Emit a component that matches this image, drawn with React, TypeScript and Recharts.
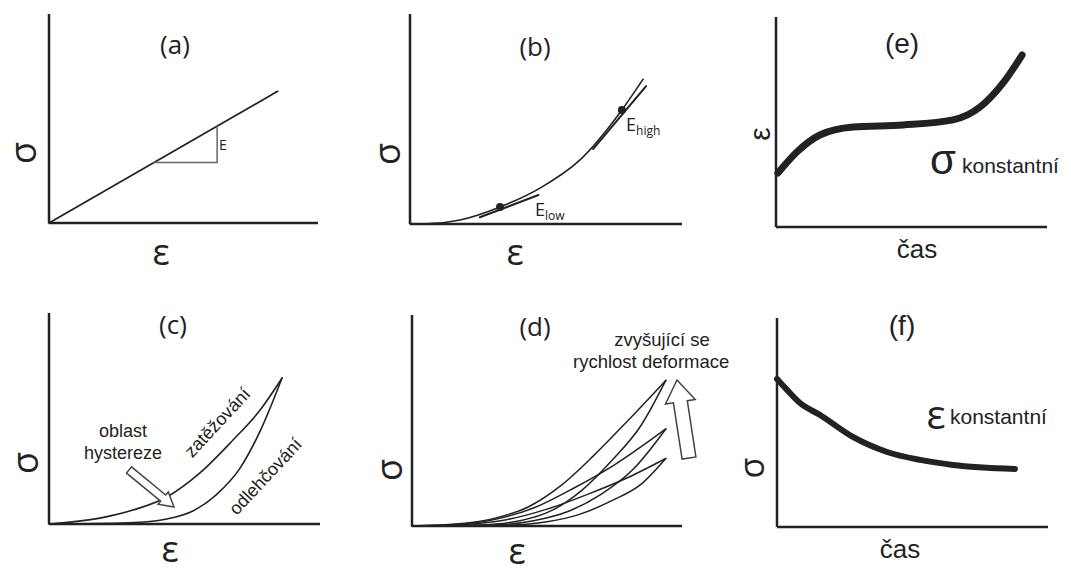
import React from 'react';
import { LineChart, Line, XAxis, YAxis, ReferenceDot } from 'recharts';

type Pt = { x: number; y: number };

// (a) linear elastic: stress-strain line and slope triangle
const linearStrain = [0, 0.85];
const linearStress = [0, 0.63];
const slopeTriX = [0.39, 0.625, 0.625];
const slopeTriY = [0.29, 0.29, 0.46];

// (b) nonlinear elastic curve with tangents at low / high strain
const nlStrain = [0, 0.074, 0.184, 0.331, 0.478, 0.625, 0.779, 0.857];
const nlStress = [0, 0.002, 0.019, 0.081, 0.171, 0.305, 0.543, 0.69];
const lowTanX = [0.257, 0.472];
const lowTanY = [0.032, 0.138];
const highTanX = [0.673, 0.868];
const highTanY = [0.357, 0.657];
const tangentPoints: Pt[] = [
  { x: 0.331, y: 0.081 },
  { x: 0.779, y: 0.543 },
];

// (c) hysteresis loop
const loadX = [0, 0.188, 0.31, 0.435, 0.557, 0.679, 0.779, 0.86];
const loadY = [0, 0.028, 0.066, 0.128, 0.242, 0.398, 0.54, 0.692];
const unloadX = [0, 0.188, 0.373, 0.435, 0.531, 0.62, 0.705, 0.779, 0.86];
const unloadY = [0, 0.002, 0.012, 0.024, 0.062, 0.142, 0.265, 0.44, 0.692];

// (d) loops at three strain rates
const rateLoops: { upX: number[]; upY: number[]; downX: number[]; downY: number[] }[] = [
  {
    upX: [0, 0.15, 0.3, 0.43, 0.55, 0.67, 0.8, 0.94],
    upY: [0, 0.008, 0.035, 0.09, 0.19, 0.33, 0.5, 0.69],
    downX: [0, 0.25, 0.4, 0.52, 0.63, 0.74, 0.85, 0.94],
    downY: [0, 0.005, 0.025, 0.075, 0.17, 0.31, 0.48, 0.69],
  },
  {
    upX: [0, 0.15, 0.3, 0.45, 0.6, 0.75, 0.94],
    upY: [0, 0.006, 0.03, 0.085, 0.18, 0.29, 0.46],
    downX: [0, 0.3, 0.45, 0.58, 0.7, 0.82, 0.94],
    downY: [0, 0.005, 0.025, 0.07, 0.15, 0.27, 0.46],
  },
  {
    upX: [0, 0.2, 0.35, 0.5, 0.65, 0.8, 0.94],
    upY: [0, 0.008, 0.03, 0.08, 0.15, 0.23, 0.32],
    downX: [0, 0.35, 0.5, 0.62, 0.74, 0.85, 0.94],
    downY: [0, 0.004, 0.02, 0.055, 0.12, 0.2, 0.32],
  },
];

// (e) creep at constant stress
const creepTime = [0.007, 0.077, 0.162, 0.284, 0.469, 0.653, 0.753, 0.838, 0.908];
const creepStrain = [0.257, 0.357, 0.438, 0.476, 0.486, 0.51, 0.571, 0.686, 0.819];

// (f) relaxation at constant strain
const relaxTime = [0, 0.037, 0.085, 0.159, 0.28, 0.406, 0.528, 0.649, 0.878];
const relaxStress = [0.708, 0.656, 0.593, 0.536, 0.431, 0.359, 0.321, 0.297, 0.278];

const zip = (xs: number[], ys: number[]): Pt[] => xs.map((x, i) => ({ x, y: ys[i] }));

const INK = '#222';
const PAD = 6;
const AXIS = 2; // room kept for the axis components
const GREEK = '"Open Sans", "DejaVu Sans", sans-serif';
const ARIAL = '"Liberation Sans", Arial, sans-serif';

type Series = { pts: Pt[]; width?: number; color?: string; curve?: 'monotone' | 'linear' };

const Panel = ({
  x0, y0, x1, y1, series, dots = [],
}: { x0: number; y0: number; x1: number; y1: number; series: Series[]; dots?: Pt[] }) => {
  const w = x1 - x0;
  const h = y1 - y0;
  return (
    <div style={{ position: 'absolute', left: x0 - PAD, top: y0 - PAD }}>
      <LineChart
        width={w + PAD * 2}
        height={h + PAD * 2}
        margin={{ top: PAD, right: PAD, bottom: PAD - AXIS, left: PAD - AXIS }}
      >
        <XAxis
          type="number"
          dataKey="x"
          domain={[0, 1]}
          height={AXIS}
          tick={false}
          tickLine={false}
          axisLine={{ stroke: INK, strokeWidth: 2.5 }}
        />
        <YAxis
          type="number"
          dataKey="y"
          domain={[0, 1]}
          width={AXIS}
          tick={false}
          tickLine={false}
          axisLine={{ stroke: INK, strokeWidth: 2.5 }}
        />
        {series.map((s, i) => (
          <Line
            key={i}
            data={s.pts}
            dataKey="y"
            type={s.curve ?? 'monotone'}
            stroke={s.color ?? INK}
            strokeWidth={s.width ?? 1.6}
            strokeLinecap="round"
            dot={false}
            activeDot={false}
            isAnimationActive={false}
          />
        ))}
        {dots.map((d, i) => (
          <ReferenceDot key={i} x={d.x} y={d.y} r={4} fill={INK} stroke="none" />
        ))}
      </LineChart>
    </div>
  );
};

const Txt = ({
  x, y, size, children, font = GREEK, rotate = 0, anchor = 'center',
}: {
  x: number; y: number; size: number; children: React.ReactNode; font?: string; rotate?: number;
  anchor?: 'center' | 'left';
}) => (
  <div
    style={{
      position: 'absolute',
      left: x,
      top: y,
      transform: `translate(${anchor === 'center' ? '-50%' : '0'}, -50%) rotate(${rotate}deg)`,
      fontFamily: font,
      fontSize: size,
      lineHeight: 0.75,
      color: INK,
      whiteSpace: 'nowrap',
    }}
  >
    {children}
  </div>
);

// hollow block arrow from tail (tx,ty) to tip (hx,hy)
const arrowPath = (tx: number, ty: number, hx: number, hy: number, shaft: number, head: number, headLen: number) => {
  const len = Math.hypot(hx - tx, hy - ty);
  const ux = (hx - tx) / len;
  const uy = (hy - ty) / len;
  const nx = -uy;
  const ny = ux;
  const bx = hx - ux * headLen;
  const by = hy - uy * headLen;
  const p = [
    [tx + nx * shaft, ty + ny * shaft],
    [bx + nx * shaft, by + ny * shaft],
    [bx + nx * head, by + ny * head],
    [hx, hy],
    [bx - nx * head, by - ny * head],
    [bx - nx * shaft, by - ny * shaft],
    [tx - nx * shaft, ty - ny * shaft],
  ];
  return p.map((q) => q.map((v) => v.toFixed(1)).join(',')).join(' ');
};

export default function App() {
  return (
    <div style={{ position: 'absolute', left: 0, top: 0, width: 1071, height: 569, background: '#fff', overflow: 'hidden' }}>
      {/* (a) */}
      <Panel
        x0={49} y0={14} x1={318} y1={223}
        series={[
          { pts: zip(linearStrain, linearStress), curve: 'linear', width: 1.8 },
          { pts: zip(slopeTriX, slopeTriY), curve: 'linear', width: 1.5, color: '#666' },
        ]}
      />
      <Txt x={175} y={45} size={26}>(a)</Txt>
      <Txt x={22} y={153} size={36} rotate={-90}>σ</Txt>
      <Txt x={161} y={251} size={36}>ε</Txt>
      <Txt x={219} y={145} size={14} anchor="left">E</Txt>

      {/* (b) */}
      <Panel
        x0={410} y0={14} x1={682} y1={224}
        series={[
          { pts: zip(nlStrain, nlStress), width: 1.6 },
          { pts: zip(lowTanX, lowTanY), curve: 'linear', width: 2 },
          { pts: zip(highTanX, highTanY), curve: 'linear', width: 2 },
        ]}
        dots={tangentPoints}
      />
      <Txt x={535} y={47} size={26}>(b)</Txt>
      <Txt x={386} y={154} size={36} rotate={-90}>σ</Txt>
      <Txt x={515} y={251} size={36}>ε</Txt>
      <Txt x={535} y={211} size={18} anchor="left">
        E<span style={{ fontSize: 12, verticalAlign: -4 }}>low</span>
      </Txt>
      <Txt x={626} y={126} size={18} anchor="left">
        E<span style={{ fontSize: 12, verticalAlign: -4 }}>high</span>
      </Txt>

      {/* (e) */}
      <Panel
        x0={776} y0={17} x1={1047} y1={227}
        series={[{ pts: zip(creepTime, creepStrain), width: 7 }]}
      />
      <Txt x={902} y={43} size={28} font={ARIAL}>(e)</Txt>
      <Txt x={760} y={134} size={30} font={ARIAL} rotate={-90}>ε</Txt>
      <Txt x={943} y={160} size={42} font={ARIAL}>σ</Txt>
      <Txt x={962} y={166} size={21} font={ARIAL} anchor="left">konstantní</Txt>
      <Txt x={917} y={250} size={26} font={ARIAL}>čas</Txt>

      {/* (c) */}
      <Panel
        x0={49} y0={313} x1={320} y1={524}
        series={[
          { pts: zip(loadX, loadY), width: 1.6 },
          { pts: zip(unloadX, unloadY), width: 1.6 },
        ]}
      />
      <Txt x={173} y={325} size={26}>(c)</Txt>
      <Txt x={24} y={463} size={36} rotate={-90}>σ</Txt>
      <Txt x={170} y={548} size={36}>ε</Txt>
      <Txt x={123} y={432} size={18} font={ARIAL}>oblast</Txt>
      <Txt x={123} y={454} size={18} font={ARIAL}>hystereze</Txt>
      <Txt x={218} y={423} size={18} font={ARIAL} rotate={-47}>zatěžování</Txt>
      <Txt x={266} y={477} size={18} font={ARIAL} rotate={-47}>odlehčování</Txt>

      {/* (d) */}
      <Panel
        x0={412} y0={315} x1={682} y1={526}
        series={rateLoops.flatMap((l) => [
          { pts: zip(l.upX, l.upY), width: 1.5 },
          { pts: zip(l.downX, l.downY), width: 1.5 },
        ])}
      />
      <Txt x={535} y={327} size={26}>(d)</Txt>
      <Txt x={388} y={470} size={36} rotate={-90}>σ</Txt>
      <Txt x={517} y={550} size={36}>ε</Txt>
      <Txt x={662} y={340} size={18.5} font={ARIAL}>zvyšující se</Txt>
      <Txt x={573} y={362} size={18.5} font={ARIAL} anchor="left">rychlost deformace</Txt>

      {/* (f) */}
      <Panel
        x0={777} y0={318} x1={1048} y1={527}
        series={[{ pts: zip(relaxTime, relaxStress), width: 6 }]}
      />
      <Txt x={902} y={325} size={28} font={ARIAL}>(f)</Txt>
      <Txt x={752} y={468} size={34} font={GREEK} rotate={-90}>σ</Txt>
      <Txt x={936} y={414} size={40} font={GREEK}>ε</Txt>
      <Txt x={950} y={417} size={21} font={ARIAL} anchor="left">konstantní</Txt>
      <Txt x={900} y={550} size={26} font={ARIAL}>čas</Txt>

      <svg width={1071} height={569} style={{ position: 'absolute', left: 0, top: 0, pointerEvents: 'none' }}>
        <polygon points={arrowPath(129, 470, 174, 507, 4, 8, 14)} fill="#fff" stroke="#444" strokeWidth={1.5} strokeLinejoin="miter" />
        <polygon points={arrowPath(689, 458, 677, 380, 7, 15, 22)} fill="#fff" stroke="#444" strokeWidth={1.5} strokeLinejoin="miter" />
      </svg>
    </div>
  );
}
